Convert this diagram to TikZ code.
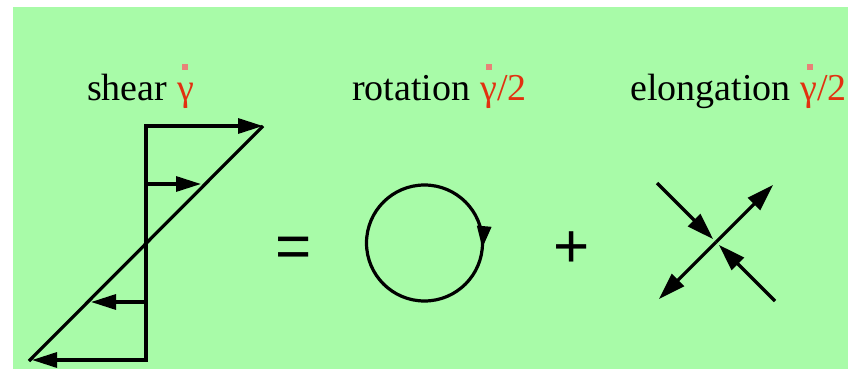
\documentclass[tikz,border=0pt]{standalone}
\usepackage{fontspec}
\setmainfont{Liberation Serif}
\newfontfamily\opfont{Liberation Sans}
\usetikzlibrary{arrows.meta,decorations.markings}
\definecolor{bggreen}{RGB}{168,251,168}
\definecolor{gred}{RGB}{226,48,16}
\definecolor{dotc}{RGB}{232,130,120}
\begin{document}
\begin{tikzpicture}[x=1pt,y=-1pt,
  lbl/.style={anchor=base west, inner sep=0pt, font=\fontsize{38}{40}\selectfont},
  gam/.style={anchor=base west, inner sep=0pt, font=\fontsize{38}{40}\selectfont, text=gred},
  op/.style={anchor=base, inner sep=0pt, font=\opfont\fontsize{62}{64}\selectfont},
  ln/.style={line width=3.2pt},
  sarr/.style={line width=3.2pt, -{Triangle[length=25pt,width=15pt]}},
  xarr/.style={line width=3.2pt, -{Triangle[length=27pt,width=17pt]}},
  gdot/.style={fill=dotc, minimum size=6pt, inner sep=0pt}
]
\useasboundingbox (0,0) rectangle (848,369);
\fill[bggreen] (13,7) rectangle (848,369);

% labels
\node[lbl] (t1) at (87,100) {shear};
\node[gam] (g1) at ([xshift=9.5pt]t1.base east) {γ};
\node[gdot] (d1) at ([xshift=8pt,yshift=33pt]g1.base west) {};
\node[lbl] (t2) at (352,100) {rotation};
\node[gam] (g2) at ([xshift=9.5pt]t2.base east) {γ/2};
\node[gdot] (d2) at ([xshift=9pt,yshift=33pt]g2.base west) {};
\node[lbl] (t3) at (630,100) {elongation};
\node[gam] (g3) at ([xshift=9.5pt]t3.base east) {γ/2};
\node[gdot] (d3) at ([xshift=10pt,yshift=33pt]g3.base west) {};

% operators
\node[op] (eq) at (294,267) {=};
\node[op] (pl) at (572,267) {+};

% shear flow
\coordinate (st) at (146,126);
\coordinate (sb) at (146,360);
\coordinate (tr) at (263,126);
\coordinate (bl) at (29,361);
\coordinate (bt) at (32,360);
\coordinate (m1) at (146,184);
\coordinate (m1e) at (201,184);
\coordinate (m2) at (146,302);
\coordinate (m2e) at (91,302);
\draw[ln, line cap=rect] (st) -- (sb);
\draw[ln] (tr) -- (bl);
\draw[sarr] (st) -- (tr);
\draw[sarr] (sb) -- (bt);
\draw[sarr] (m1) -- (m1e);
\draw[sarr] (m2) -- (m2e);

% rotation
\node[draw, circle, line width=3.2pt, minimum size=116pt, inner sep=0pt] (rot) at (424.5,243) {};
\path[decoration={markings, mark=at position 0.986 with {\arrowreversed[line width=3pt]{Triangle[length=22pt,width=14pt]}}}, decorate] (rot.center) circle[radius=58pt];

% elongation
\coordinate (xc) at (716,242);
\coordinate (a1) at (657,183);
\coordinate (a2) at (775,301);
\coordinate (b1) at (659,299);
\coordinate (b2) at (773,185);
\draw[xarr, shorten >=4pt] (a1) -- (xc);
\draw[xarr, shorten >=4pt] (a2) -- (xc);
\draw[xarr] (xc) -- (b1);
\draw[xarr] (xc) -- (b2);
\end{tikzpicture}
\end{document}
